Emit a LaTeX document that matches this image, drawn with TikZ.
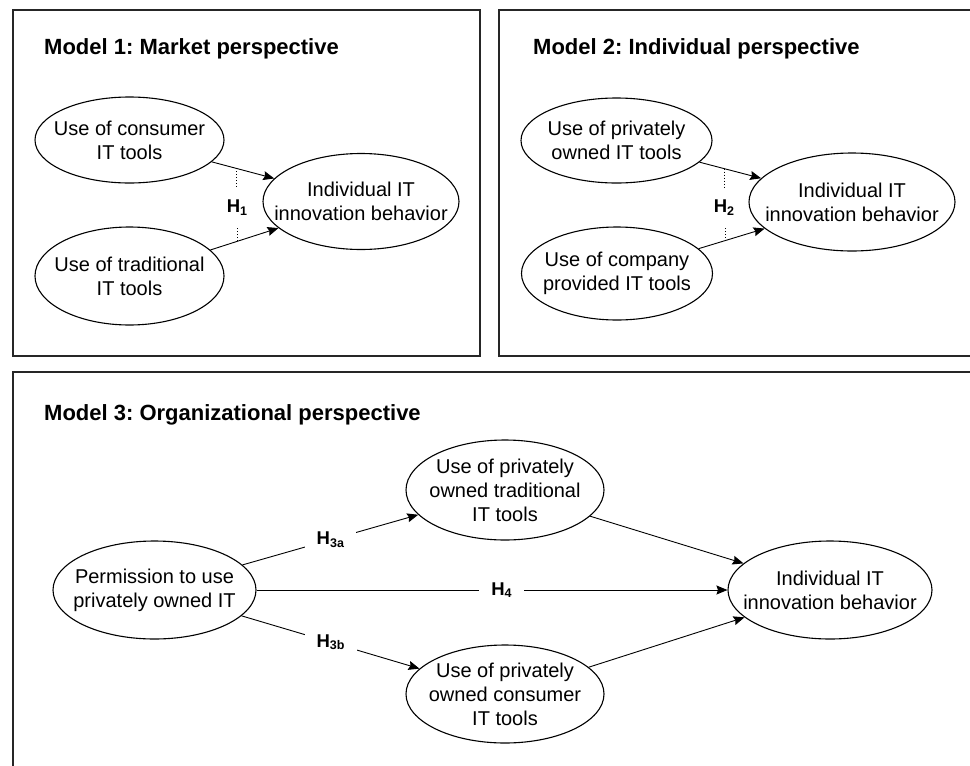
\documentclass[tikz,border=0pt]{standalone}
\usepackage{fontspec}
\setmainfont{Liberation Sans}
\usetikzlibrary{arrows.meta,shapes.geometric}
\newcommand{\hsub}[1]{\textbf{H}\raisebox{-2.5pt}{\fontsize{12.5}{12.5}\selectfont\bfseries #1}}
\frenchspacing

\begin{document}
\begin{tikzpicture}[x=1pt, y=-1pt, >={Stealth[length=11pt,width=9pt,inset=1.5pt]},
  construct/.style={draw, ellipse, line width=1.1pt, inner xsep=-30pt, inner ysep=-15pt, align=center, font=\fontsize{20}{24}\selectfont},
  frame/.style={draw=black!85, line width=1.6pt},
  title/.style={anchor=base west, inner sep=0pt, font=\fontsize{22}{26}\selectfont\bfseries},
  hlabel/.style={fill=white, inner xsep=12pt, inner ysep=11pt, font=\fontsize{18.5}{20}\selectfont},
  link/.style={->, line width=0.9pt}]
\useasboundingbox (0,0) rectangle (970,766);
\draw[frame] (13,10) rectangle (480,356);
\draw[frame] (499,10) rectangle (985,356);
\draw[frame] (13,372) rectangle (985,790);

% model 1
\node[title] (t1) at (44,54.5) {Model 1: Market perspective};
\node[construct, minimum width=189pt, minimum height=86pt] (cons1) at (129.5,140) {Use of consumer\\IT tools};
\node[construct, minimum width=189pt, minimum height=98pt] (trad1) at (129.5,276) {Use of traditional\\IT tools};
\node[construct, minimum width=196pt, minimum height=96pt] (ind1) at (361,201.5) {Individual IT\\innovation behavior};
\draw[link] (cons1) -- coordinate[pos=0.4] (d1a) (ind1);
\draw[link] (trad1) -- coordinate[pos=0.4] (d1b) (ind1);
\node[hlabel, fill=none] (h1) at (237,207.5) {\hsub{1}};
\draw[dotted, line width=1pt] (d1a) -- (d1a |- h1.north);
\draw[dotted, line width=1pt] (d1b) -- (d1b |- h1.south);

% model 2
\node[title] (t2) at (533,54.5) {Model 2: Individual perspective};
\node[construct, minimum width=191pt, minimum height=85pt] (priv2) at (616.5,140.5) {Use of privately\\owned IT tools};
\node[construct, minimum width=191pt, minimum height=93pt] (comp2) at (617,273.5) {Use of company\\provided IT tools};
\node[construct, minimum width=206pt, minimum height=98pt] (ind2) at (852,202) {Individual IT\\innovation behavior};
\draw[link] (priv2) -- coordinate[pos=0.4] (d2a) (ind2);
\draw[link] (comp2) -- coordinate[pos=0.4] (d2b) (ind2);
\node[hlabel, fill=none] (h2) at (724,207.5) {\hsub{2}};
\draw[dotted, line width=1pt] (d2a) -- (d2a |- h2.north);
\draw[dotted, line width=1pt] (d2b) -- (d2b |- h2.south);

% model 3
\node[title] (t3) at (44,420) {Model 3: Organizational perspective};
\node[construct, minimum width=203pt, minimum height=98pt] (perm) at (154.5,590) {Permission to use\\privately owned IT};
\node[construct, minimum width=198pt, minimum height=100pt] (ptrad) at (505,490) {Use of privately\\owned traditional\\IT tools};
\node[construct, minimum width=198pt, minimum height=98pt] (pcons) at (505,694) {Use of privately\\owned consumer\\IT tools};
\node[construct, minimum width=204pt, minimum height=98pt] (ind3) at (830,590) {Individual IT\\innovation behavior};
\draw[link] (perm) -- node[hlabel] {\hsub{3a}} (ptrad);
\draw[link] (perm) -- node[hlabel, pos=0.52] {\hsub{4}} (ind3);
\draw[link] (perm) -- node[hlabel] {\hsub{3b}} (pcons);
\draw[link] (ptrad) -- (ind3);
\draw[link] (pcons) -- (ind3);
\end{tikzpicture}
\end{document}
